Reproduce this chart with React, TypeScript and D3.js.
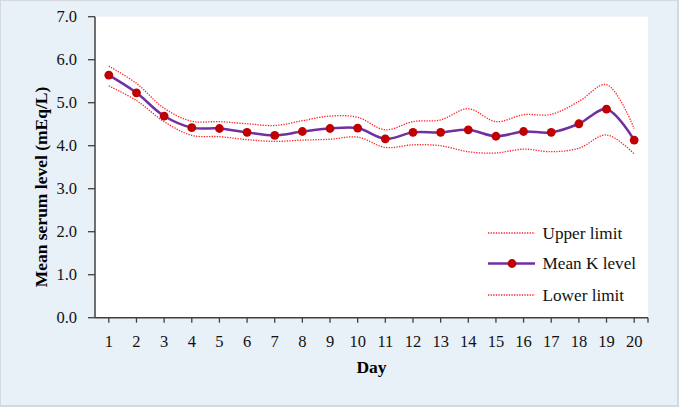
import React from "react";
import * as d3 from "d3";

const days = [1,2,3,4,5,6,7,8,9,10,11,12,13,14,15,16,17,18,19,20];
const meanK = [5.64,5.23,4.69,4.42,4.40,4.31,4.24,4.33,4.40,4.41,4.16,4.31,4.31,4.37,4.22,4.33,4.31,4.51,4.85,4.13];
const upperLimit = [5.85,5.45,4.87,4.57,4.56,4.51,4.47,4.58,4.69,4.66,4.37,4.56,4.60,4.86,4.56,4.72,4.73,5.03,5.42,4.40];
const lowerLimit = [5.39,5.05,4.56,4.24,4.21,4.14,4.10,4.13,4.15,4.20,3.96,4.02,4.00,3.86,3.83,3.92,3.86,3.94,4.25,3.81];
const yTicks = [0,1,2,3,4,5,6,7];
const legendItems = ["Upper limit", "Mean K level", "Lower limit"];

const W = 679, H = 407;
const L = 95, R = 648, T = 16.7, B = 317.7;
const FONT = "'Liberation Serif', 'DejaVu Serif', serif";

export default function App() {
  const x = d3.scaleBand<number>().domain(days).range([L, R]);
  const cx = (d: number) => (x(d) as number) + x.bandwidth() / 2;
  const y = d3.scaleLinear().domain([0, 7]).range([B, T]);
  const line = (vals: number[]) =>
    d3.line<number>().x((_, i) => cx(days[i])).y(v => y(v)).curve(d3.curveCatmullRom.alpha(0.5))(vals) || "";

  const red = "#C00000";
  const purple = "#7030A0";
  const dotRed = "#FF2020";
  const axisCol = "#404040";
  const tickXs = [...days.map(cx), R];

  return (
    <svg width={W} height={H} style={{ position: "absolute", left: 0, top: 0 }} fontFamily={FONT}>
      <rect x={0} y={0} width={W} height={H} fill="#D5D9DE" />
      <rect x={1} y={1} width={W - 3} height={H - 3} fill="#E8F0F8" />
      <rect x={L} y={T} width={R - L} height={B - T} fill="#FFFFFF" />

      <path d={line(upperLimit)} fill="none" stroke={dotRed} strokeWidth={1.3} strokeDasharray="1.3 1.3" />
      <path d={line(lowerLimit)} fill="none" stroke={dotRed} strokeWidth={1.3} strokeDasharray="1.3 1.3" />
      <path d={line(meanK)} fill="none" stroke={purple} strokeWidth={2.5} />
      {meanK.map((v, i) => (
        <circle key={i} cx={cx(days[i])} cy={y(v)} r={4.4} fill={red} />
      ))}

      {/* Y axis */}
      <line x1={L} x2={L} y1={T} y2={B} stroke={axisCol} strokeWidth={1.5} />
      {yTicks.map(t => (
        <g key={t}>
          <line x1={L - 7} x2={L} y1={y(t)} y2={y(t)} stroke={axisCol} strokeWidth={1.3} />
          <text x={77} y={y(t) + 5.5} textAnchor="end" fontSize={16.5} fill="#111">{t.toFixed(1)}</text>
        </g>
      ))}
      {/* X axis */}
      <line x1={L} x2={R} y1={B} y2={B} stroke={axisCol} strokeWidth={1.5} />
      {tickXs.map((tx, i) => (
        <line key={i} x1={tx} x2={tx} y1={B} y2={B + 5} stroke={axisCol} strokeWidth={1.3} />
      ))}
      {days.map(d => (
        <text key={d} x={cx(d)} y={346.5} textAnchor="middle" fontSize={16.5} fill="#111">{d}</text>
      ))}

      <text x={(L + R) / 2} y={373} textAnchor="middle" fontSize={17.5} fontWeight="bold" fill="#000">Day</text>
      <text transform={`translate(46.5, 187) rotate(-90)`} textAnchor="middle" fontSize={17.5} fontWeight="bold" fill="#000">Mean serum level (mEq/L)</text>

      {/* Legend */}
      {legendItems.map((name, i) => {
        const ly = [233, 263.5, 295][i];
        return (
          <g key={name}>
            {i === 1 ? (
              <>
                <line x1={488} x2={535} y1={ly} y2={ly} stroke={purple} strokeWidth={2.5} />
                <circle cx={512} cy={ly} r={4.4} fill={red} />
              </>
            ) : (
              <line x1={488} x2={535} y1={ly} y2={ly} stroke={dotRed} strokeWidth={1.3} strokeDasharray="1.3 1.3" />
            )}
            <text x={542.5} y={ly + 5.5} fontSize={17.2} fill="#111">{name}</text>
          </g>
        );
      })}
    </svg>
  );
}
